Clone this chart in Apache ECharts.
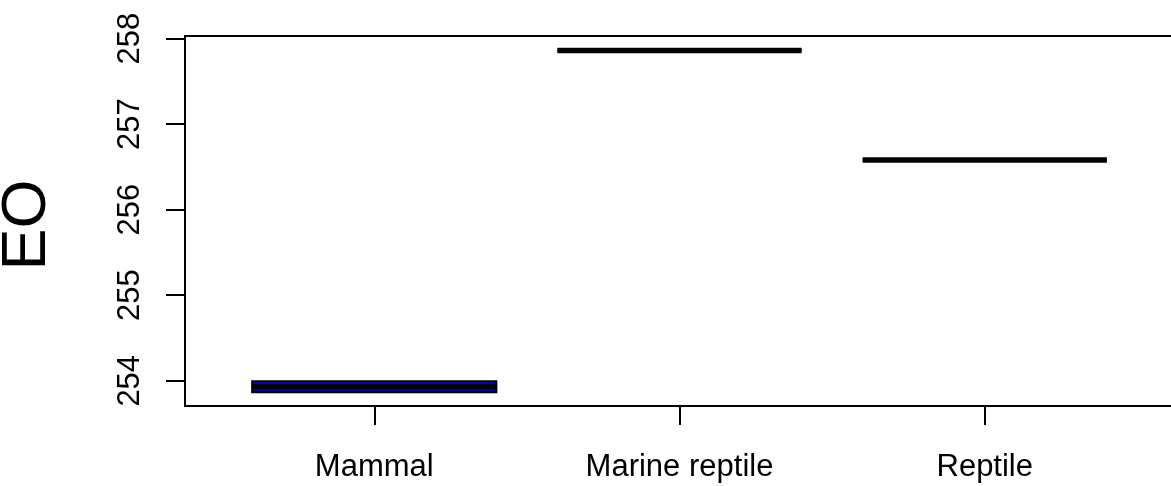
<!DOCTYPE html>
<html>
<head>
<meta charset="utf-8">
<script src="https://cdn.jsdelivr.net/npm/echarts@6/dist/echarts.min.js"></script>
<style>
  html,body{margin:0;padding:0;background:#fff;}
  #eo{width:1171px;height:486px;}
</style>
</head>
<body>
<div id="eo"></div>
<script>
// groups on the x axis
var categories = ['Mammal', 'Marine reptile', 'Reptile'];
// five-number summaries
var whiskerLow = [253.866, 257.86, 256.58];
var q1 = [253.866, 257.86, 256.58];
var median = [253.93, 257.86, 256.58];
var q3 = [253.994, 257.86, 256.58];
var whiskerHigh = [253.994, 257.86, 256.58];
// axis ticks
var yTicks = [254, 255, 256, 257, 258];
var xTicks = [1, 2, 3];

var boxFill = ['#0000DD', '#0000DD', '#0000DD'];
var font = '"Liberation Sans", Arial, Helvetica, sans-serif';

var boxData = categories.map(function (c, i) {
  return [i + 1, whiskerLow[i], q1[i], median[i], q3[i], whiskerHigh[i]];
});

function renderBox(params, api) {
  var x = api.value(0);
  var i = params.dataIndex;
  var half = 0.4;
  var lo = api.coord([x, api.value(1)]);
  var b1 = api.coord([x - half, api.value(2)]);
  var b3 = api.coord([x + half, api.value(4)]);
  var med = api.coord([x, api.value(3)]);
  var hi = api.coord([x, api.value(5)]);
  var left = b1[0], right = b3[0];
  var children = [];
  // whiskers
  children.push({type: 'line', shape: {x1: lo[0], y1: lo[1], x2: lo[0], y2: b1[1]},
    style: {stroke: '#000', lineWidth: 1.5, lineDash: [6, 4]}});
  children.push({type: 'line', shape: {x1: hi[0], y1: hi[1], x2: hi[0], y2: b3[1]},
    style: {stroke: '#000', lineWidth: 1.5, lineDash: [6, 4]}});
  // box
  children.push({type: 'rect', shape: {x: left, y: b3[1], width: right - left, height: b1[1] - b3[1]},
    style: {fill: boxFill[i], stroke: '#000', lineWidth: 2}});
  // median
  children.push({type: 'line', shape: {x1: left, y1: med[1], x2: right, y2: med[1]},
    style: {stroke: '#000', lineWidth: 5.5, lineCap: 'butt'}});
  return {type: 'group', children: children};
}

var chart = echarts.init(document.getElementById('eo'));
var option = {
  animation: false,
  grid: {
    left: 185, right: -3, top: 36, bottom: 80,
    show: true, borderColor: '#000', borderWidth: 2,
    containLabel: false, outerBoundsMode: 'none'
  },
  xAxis: {
    type: 'value', min: 0.38, max: 3.62,
    axisLine: {show: false},
    splitLine: {show: false},
    axisTick: {show: true, customValues: xTicks, length: 19, lineStyle: {color: '#000', width: 2}},
    axisLabel: {
      customValues: xTicks, margin: 46, color: '#000', fontSize: 31, fontFamily: font,
      formatter: function (v) { return categories[v - 1]; }
    }
  },
  yAxis: {
    type: 'value', min: 253.705, max: 258.03,
    name: 'EO', nameLocation: 'middle', nameRotate: 90, nameGap: 126,
    nameTextStyle: {fontSize: 63, color: '#000', fontFamily: font, padding: [0, 8, 0, 0]},
    axisLine: {show: false},
    splitLine: {show: false},
    axisTick: {show: true, customValues: yTicks, length: 19, lineStyle: {color: '#000', width: 2}},
    axisLabel: {
      customValues: yTicks, rotate: 90, margin: 39, color: '#000', fontSize: 31, fontFamily: font
    }
  },
  series: [{
    type: 'custom',
    renderItem: renderBox,
    encode: {x: 0, y: [1, 2, 3, 4, 5]},
    data: boxData,
    clip: false
  }]
};
chart.setOption(option);
</script>
</body>
</html>
